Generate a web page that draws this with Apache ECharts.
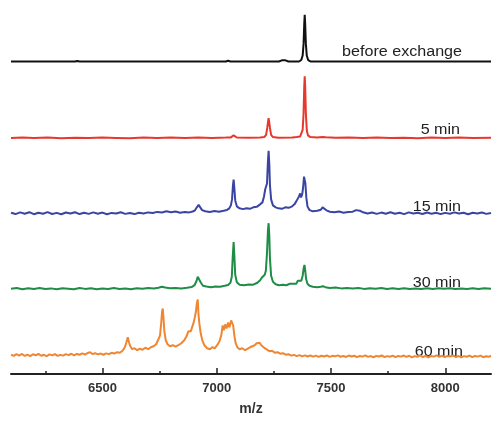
<!DOCTYPE html>
<html>
<head>
<meta charset="utf-8">
<script src="https://cdn.jsdelivr.net/npm/echarts@6/dist/echarts.min.js"></script>
<style>
  html, body { margin: 0; padding: 0; background: #fff; }
  #chart { width: 492px; height: 421px; }
</style>
</head>
<body>
<div id="chart"></div>
<script>
// m/z axis ticks
const majorTicks = [6500, 7000, 7500, 8000];
const minorTicks = [6250, 6750, 7250, 7750];

const traceNames = ['before exchange', '5 min', '15 min', '30 min', '60 min'];
const traceColors = ['#111111', '#e6382e', '#3a45a3', '#1f8d45', '#ef8632'];
// vertical offset of each spectrum (same units as intensity)
const traceOffsets = [315, 238, 162, 86, 19];

// [m/z, intensity]
const beforeExchange = [[6100,0],[6380,0],[6390,0.6],[6400,0],[7040,0],[7050,0.8],[7060,0],[7272,0],[7285,1.2],[7293,2.8],[7301,1.2],[7314,0],[7360,0],[7370,1.5],[7376,6],[7380,18],[7383,38],[7385,47],[7387,38],[7390,18],[7394,6],[7400,1.5],[7412,0],[8200,0]];

const min5 = [[6100,0],[6150,0.4],[6200,-0.2],[6260,0.3],[6320,-0.3],[6380,0.2],[6440,-0.2],[6500,0.3],[6560,0],[6620,-0.3],[6680,0.3],[6740,-0.1],[6800,0.3],[6860,-0.2],[6920,0.4],[6980,0],[7040,0.3],[7062,0.5],[7070,1.8],[7074,2.6],[7078,1.8],[7088,0.4],[7140,0.2],[7190,0.3],[7208,0.8],[7216,3],[7221,10],[7225,17],[7227,20],[7229,17],[7233,10],[7238,3],[7246,0.8],[7270,0.2],[7330,0.4],[7350,1],[7358,2.2],[7365,1.5],[7371,3],[7376,8],[7380,25],[7383,52],[7385,62],[7387,52],[7390,25],[7394,8],[7399,2.5],[7410,0.8],[7440,0.3],[7462,0.8],[7470,1.6],[7478,0.6],[7520,0.1],[7580,0.3],[7640,-0.2],[7700,0.3],[7760,-0.2],[7820,0.2],[7880,-0.3],[7940,0.3],[8000,-0.1],[8060,0.3],[8120,-0.2],[8200,0.1]];

const min15 = [[6100,0.5],[6120,-0.8],[6140,0.9],[6160,-0.4],[6180,1.1],[6200,-0.9],[6220,0.6],[6240,-0.5],[6260,1.2],[6280,-0.7],[6300,0.4],[6320,-1],[6340,0.8],[6360,-0.3],[6380,1],[6400,-0.8],[6420,0.5],[6440,-0.6],[6460,0.9],[6480,-0.4],[6500,0.7],[6520,-0.9],[6540,0.4],[6560,-0.2],[6580,1],[6600,-0.6],[6620,0.3],[6640,-0.8],[6660,0.6],[6680,-0.3],[6700,0.9],[6720,0.2],[6740,1.4],[6760,0.8],[6780,2],[6800,1],[6820,1.8],[6840,0.6],[6860,1.3],[6880,0.9],[6895,1.8],[6905,3],[6913,6],[6921,8.5],[6928,6],[6936,3.2],[6950,2],[6970,1.4],[6990,2.2],[7010,1.6],[7030,2.6],[7045,3.4],[7055,5],[7062,8],[7067,14],[7071,28],[7074,34],[7077,26],[7081,13],[7088,7],[7100,5],[7115,4.2],[7130,5],[7145,4.5],[7160,6],[7175,6.5],[7190,9],[7200,11],[7207,17],[7212,24],[7216,22],[7220,30],[7224,52],[7227,63],[7230,50],[7233,28],[7238,14],[7246,8],[7258,6],[7270,5],[7285,4.5],[7300,6],[7315,5.5],[7330,7],[7340,9],[7348,12],[7354,10],[7360,17],[7365,20],[7369,16],[7374,19],[7378,26],[7382,37],[7385,39],[7388,30],[7392,16],[7397,7],[7405,3.5],[7420,2],[7440,2.5],[7455,3.5],[7463,6],[7470,5.5],[7480,3],[7495,1.6],[7515,1],[7535,1.8],[7555,0.6],[7575,1.3],[7595,1.6],[7610,3.2],[7618,4],[7626,2.6],[7640,1],[7660,-0.3],[7680,0.8],[7700,-0.6],[7720,0.7],[7740,-0.4],[7760,1],[7780,-0.5],[7800,0.6],[7820,-0.8],[7840,0.9],[7860,-0.3],[7880,0.5],[7900,-0.7],[7920,0.8],[7940,-0.4],[7960,0.6],[7980,-0.8],[8000,0.4],[8020,-0.5],[8040,0.9],[8060,-0.3],[8080,0.6],[8100,-0.9],[8120,0.5],[8140,-0.2],[8160,0.8],[8180,-0.6],[8200,0.3]];

const min30 = [[6100,0],[6125,0.6],[6150,-0.5],[6175,0.4],[6200,-0.3],[6225,0.7],[6250,-0.4],[6275,0.3],[6300,-0.6],[6325,0.5],[6350,0],[6375,-0.5],[6400,0.6],[6425,-0.2],[6450,0.4],[6475,-0.5],[6500,0.3],[6525,-0.3],[6550,0.6],[6575,-0.4],[6600,0.2],[6625,-0.5],[6650,0.5],[6675,0],[6700,0.6],[6725,0.2],[6745,1],[6760,2],[6775,1.2],[6795,0.4],[6820,0.8],[6845,0.3],[6870,1],[6890,1.6],[6903,3.5],[6912,8],[6917,12],[6921,14],[6925,11],[6931,6],[6940,3],[6955,2.2],[6975,1.5],[6995,2.3],[7015,2],[7035,3],[7050,3.8],[7060,6],[7066,12],[7070,32],[7074,47],[7077,34],[7081,14],[7088,6.5],[7100,4],[7120,3.5],[7140,4.3],[7160,4],[7178,6],[7190,8.5],[7197,11],[7203,10],[7210,14],[7215,18],[7220,36],[7224,58],[7227,66],[7230,54],[7233,30],[7238,13],[7246,7],[7258,4.5],[7272,3.5],[7290,4],[7305,3.5],[7320,5],[7332,5],[7340,6.5],[7348,5],[7355,8],[7362,6.5],[7370,8],[7376,13],[7380,20],[7384,24],[7387,19],[7391,10],[7397,5],[7406,3],[7420,2],[7440,1.5],[7455,2],[7465,2.5],[7475,1.5],[7495,0.8],[7520,1.2],[7545,0.3],[7570,0.8],[7595,0.2],[7620,0.6],[7645,-0.2],[7670,0.5],[7695,0],[7720,0.6],[7745,-0.3],[7770,0.4],[7795,-0.2],[7820,0.5],[7845,-0.4],[7870,0.3],[7895,-0.2],[7920,0.5],[7945,-0.3],[7970,0.4],[7995,0],[8020,0.5],[8045,-0.4],[8070,0.3],[8095,-0.2],[8120,0.4],[8145,-0.3],[8170,0.5],[8200,0]];

const min60 = [[6100,0.5],[6112,-0.8],[6124,1],[6136,-0.4],[6148,1.2],[6160,-0.7],[6172,0.6],[6184,-1],[6196,0.9],[6208,-0.3],[6220,1.3],[6232,-0.6],[6244,0.4],[6256,-1.1],[6268,0.8],[6280,-0.2],[6292,1.1],[6304,-0.8],[6316,0.3],[6328,-0.5],[6340,1],[6352,0],[6364,1.4],[6376,-0.3],[6388,1.2],[6400,0.4],[6412,1.8],[6424,0.6],[6436,2.2],[6446,3],[6456,1.2],[6468,2],[6480,0.8],[6492,1.6],[6504,0.4],[6516,1.8],[6528,1],[6540,2.4],[6552,1.6],[6564,3],[6576,2.4],[6588,4.5],[6598,8],[6605,13],[6611,18],[6616,13],[6622,9],[6630,6],[6640,7],[6652,5],[6664,6.5],[6676,5.5],[6688,7.5],[6700,6],[6712,8],[6724,9],[6735,11],[6745,16],[6752,20],[6757,32],[6761,44],[6764,47],[6767,38],[6771,24],[6777,15],[6785,11],[6795,9],[6808,10],[6820,8.5],[6832,10],[6845,12],[6858,15],[6868,19],[6876,24],[6882,26],[6887,24],[6892,28],[6898,32],[6904,38],[6909,44],[6913,52],[6917,56],[6920,42],[6924,32],[6930,22],[6937,15],[6946,10],[6958,7],[6970,6],[6980,8],[6992,7],[7002,10],[7012,14],[7020,20],[7026,30],[7031,25],[7037,31],[7043,27],[7050,33],[7056,28],[7063,35],[7068,37],[7072,30],[7077,20],[7083,12],[7090,8],[7100,6],[7112,7],[7124,5],[7136,6.5],[7146,8],[7156,9],[7166,10],[7175,12],[7182,11],[7188,12.5],[7195,10],[7202,8.5],[7210,7],[7218,5],[7230,4],[7242,4.5],[7254,2.5],[7266,3],[7278,1.5],[7290,2],[7302,0.5],[7314,1],[7326,-0.5],[7338,0.3],[7350,-1],[7362,0],[7374,-1.2],[7386,-0.2],[7398,-1.4],[7410,-0.4],[7422,-1.5],[7434,-0.5],[7446,-1.8],[7458,-0.6],[7470,-1.3],[7482,-0.3],[7494,-1.7],[7506,-0.7],[7518,-1.2],[7530,-0.2],[7542,-1.6],[7554,-0.8],[7566,-1.8],[7578,-0.4],[7590,-1.4],[7602,-0.6],[7614,-2],[7626,-0.8],[7638,-1.5],[7650,-0.2],[7662,-1.7],[7674,-0.9],[7686,-2.1],[7698,-0.7],[7710,-1.4],[7722,-0.3],[7734,-1.9],[7746,-1],[7758,-1.6],[7770,-0.5],[7782,-2],[7794,-0.8],[7806,-1.5],[7818,-0.4],[7830,-1.8],[7842,-0.6],[7854,-2.2],[7866,-1],[7878,-1.6],[7890,-0.3],[7902,-1.9],[7914,-0.7],[7926,-2.1],[7938,-0.9],[7950,-1.5],[7962,-0.2],[7974,-1.8],[7986,-0.6],[7998,-2],[8010,-0.8],[8022,-1.4],[8034,-0.3],[8046,-1.9],[8058,-0.9],[8070,-2.2],[8082,-1],[8094,-1.6],[8106,-0.4],[8118,-2],[8130,-0.8],[8142,-1.5],[8154,-0.5],[8166,-2.1],[8178,-1.1],[8190,-1.7],[8200,-0.6]];

const traces = [beforeExchange, min5, min15, min30, min60];

const chart = echarts.init(document.getElementById('chart'), null, { renderer: 'canvas' });

const series = traces.map((pts, i) => ({
  name: traceNames[i],
  type: 'line',
  showSymbol: false,
  animation: false,
  silent: true,
  data: pts.map(p => [p[0], p[1] + traceOffsets[i]]),
  lineStyle: { color: traceColors[i], width: 2 },
  itemStyle: { color: traceColors[i] }
}));

// label anchor (px): right edge and vertical middle
const labelY = [52, 130, 207, 283, 352];
const labelRight = [462, 460, 461, 461, 463];

const option = {
  backgroundColor: '#fff',
  grid: { left: 11, right: 1, top: 0, bottom: 44 },
  xAxis: [{
    type: 'value',
    min: 6100,
    max: 8200,
    name: 'm/z',
    nameLocation: 'middle',
    nameGap: 28,
    nameTextStyle: { fontFamily: 'Liberation Sans', fontWeight: 'bold', fontSize: 14, color: '#333' },
    splitLine: { show: false },
    axisLine: { lineStyle: { color: '#222', width: 2 } },
    axisTick: { inside: true, length: 6, customValues: majorTicks, lineStyle: { color: '#222', width: 1.5 } },
    axisLabel: {
      customValues: majorTicks,
      margin: 8,
      formatter: v => String(v),
      fontFamily: 'Liberation Sans', fontWeight: 'bold', fontSize: 13, color: '#333'
    }
  }, {
    type: 'value',
    min: 6100,
    max: 8200,
    position: 'bottom',
    offset: 0,
    splitLine: { show: false },
    axisLine: { show: false },
    axisLabel: { show: false },
    axisTick: { inside: true, length: 3, customValues: minorTicks, lineStyle: { color: '#222', width: 1.5 } }
  }],
  yAxis: { type: 'value', min: 0, max: 377, show: false },
  graphic: traceNames.map((t, i) => ({
    type: 'text',
    x: labelRight[i],
    y: labelY[i],
    scaleX: 1.15,
    style: { text: t, align: 'right', verticalAlign: 'middle', fontFamily: 'Liberation Sans', fontSize: 14, fill: '#222' }
  })),
  series: series
};

chart.setOption(option);
</script>
</body>
</html>
